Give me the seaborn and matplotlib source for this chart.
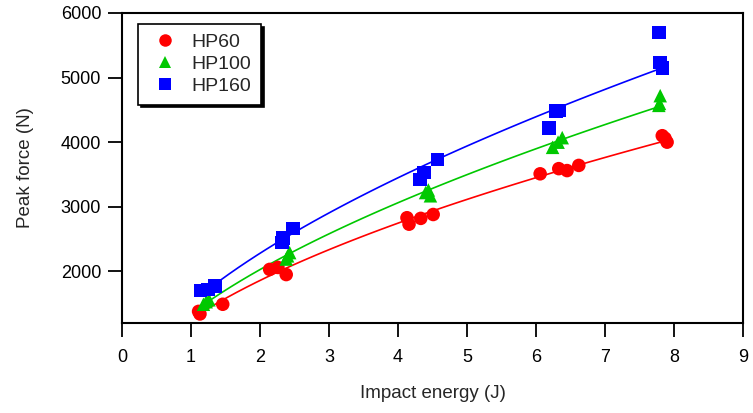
import numpy as np
import pandas as pd
import matplotlib
matplotlib.use("Agg")
import matplotlib.pyplot as plt
import seaborn as sns

# Peak force vs impact energy for three laminate grades
hp60_energy = [1.11, 1.13, 1.46, 2.14, 2.26, 2.38, 4.13, 4.16, 4.33, 4.51,
               6.06, 6.33, 6.45, 6.62, 7.83, 7.87, 7.90]
hp60_force = [1380, 1340, 1490, 2030, 2060, 1950, 2830, 2730, 2820, 2880,
              3510, 3590, 3560, 3640, 4100, 4060, 4000]

hp100_energy = [1.18, 1.22, 1.26, 2.38, 2.40, 2.43, 4.40, 4.44, 4.47,
                6.24, 6.32, 6.38, 7.78, 7.79, 7.80]
hp100_force = [1490, 1530, 1560, 2190, 2240, 2290, 3220, 3260, 3170,
               3920, 4000, 4070, 4570, 4600, 4720]

hp160_energy = [1.14, 1.25, 1.35, 2.32, 2.33, 2.48, 4.32, 4.38, 4.57,
                6.19, 6.29, 6.33, 7.78, 7.80, 7.83]
hp160_force = [1700, 1720, 1770, 2450, 2520, 2660, 3420, 3530, 3730,
               4220, 4480, 4490, 5700, 5230, 5150]

series_names = ["HP60", "HP100", "HP160"]
colors = {"HP60": "#ff0000", "HP100": "#00c800", "HP160": "#0000ff"}
markers = {"HP60": "o", "HP100": "^", "HP160": "s"}

x_ticks = [0, 1, 2, 3, 4, 5, 6, 7, 8, 9]
y_ticks = [2000, 3000, 4000, 5000, 6000]

frames = []
for name, e, f in zip(series_names,
                      [hp60_energy, hp100_energy, hp160_energy],
                      [hp60_force, hp100_force, hp160_force]):
    frames.append(pd.DataFrame({"energy": e, "force": f, "series": name}))
data = pd.concat(frames, ignore_index=True)

sns.set_theme(style="ticks")
plt.rcParams["font.family"] = ["Liberation Sans", "DejaVu Sans"]

fig = plt.figure(figsize=(7.53, 4.13), dpi=100)
ax = fig.add_axes([122 / 753, 1 - 323 / 413, 621 / 753, 310 / 413])

handles = []
for name in series_names:
    sub = data[data["series"] == name]
    # power-law fit F = a * E^b through each series
    b, log_a = np.polyfit(np.log(sub["energy"]), np.log(sub["force"]), 1)
    xs = np.linspace(sub["energy"].min(), sub["energy"].max(), 50)
    fit = pd.DataFrame({"energy": xs, "force": np.exp(log_a) * xs ** b})
    sns.lineplot(data=fit, x="energy", y="force", ax=ax, color=colors[name],
                 linewidth=1.2, zorder=2)
    sns.scatterplot(data=sub, x="energy", y="force", ax=ax,
                    color=colors[name], marker=markers[name], s=95,
                    edgecolor="none", zorder=3)
    handles.append(plt.Line2D([], [], linestyle="none", marker=markers[name],
                              color=colors[name], markersize=9,
                              markeredgewidth=0, label=name))

ax.set_xlim(0, 9)
ax.set_ylim(1200, 6000)
ax.set_xticks(x_ticks)
ax.set_yticks(y_ticks)
ax.tick_params(axis="both", direction="out", length=10, width=1.3,
               labelsize=13, colors="black")
ax.tick_params(axis="x", pad=9)
ax.tick_params(axis="y", pad=5)
for sp in ax.spines.values():
    sp.set_visible(True)
    sp.set_linewidth(1.5)
    sp.set_color("black")

ax.set_xlabel("Impact energy (J)", fontsize=13.5)
ax.set_ylabel("Peak force (N)", fontsize=13.5)
ax.xaxis.set_label_coords(0.5, -0.2)
ax.yaxis.set_label_coords(-0.142, 0.5)

leg = ax.legend(handles=handles, loc="upper left",
                bbox_to_anchor=(0.026, 0.965), borderaxespad=0,
                fontsize=14, frameon=True, fancybox=False,
                shadow={"color": "black", "alpha": 1.0},
                handlelength=1.75, handletextpad=0.5, labelspacing=0.22,
                borderpad=0.5)
leg.get_frame().set_edgecolor("black")
leg.get_frame().set_linewidth(1.2)
leg.get_frame().set_facecolor("white")

fig.savefig("out.png", dpi=100)
